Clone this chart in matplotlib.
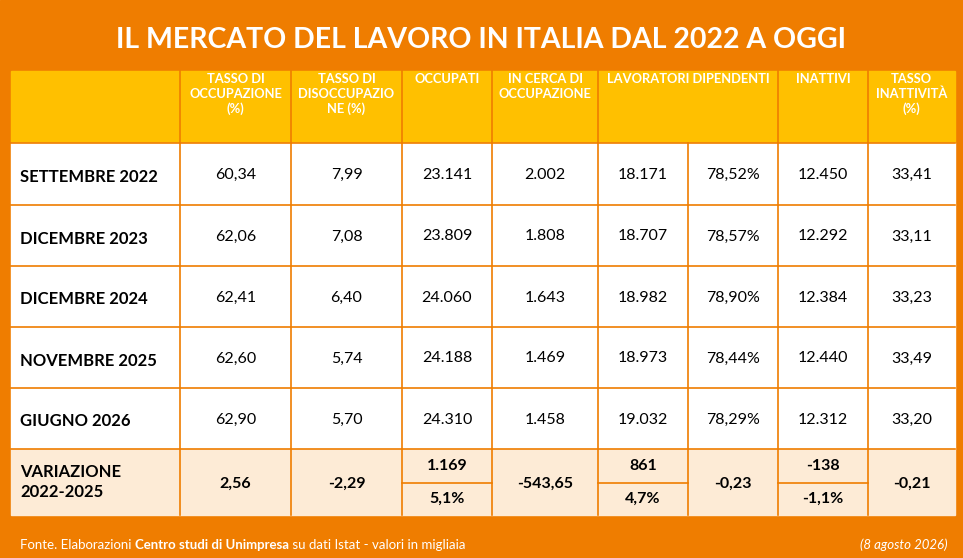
import matplotlib.pyplot as plt
from matplotlib.patches import Rectangle

title = "IL MERCATO DEL LAVORO IN ITALIA DAL 2022 A OGGI"
headers = ["TASSO DI\nOCCUPAZIONE\n(%)", "TASSO DI\nDISOCCUPAZIO\nNE (%)", "OCCUPATI",
           "IN CERCA DI\nOCCUPAZIONE", "LAVORATORI DIPENDENTI", "INATTIVI", "TASSO\nINATTIVITÀ\n(%)"]
periods = ["SETTEMBRE 2022", "DICEMBRE 2023", "DICEMBRE 2024", "NOVEMBRE 2025", "GIUGNO 2026"]
tasso_occ = ["60,34", "62,06", "62,41", "62,60", "62,90"]
tasso_dis = ["7,99", "7,08", "6,40", "5,74", "5,70"]
occupati = ["23.141", "23.809", "24.060", "24.188", "24.310"]
in_cerca = ["2.002", "1.808", "1.643", "1.469", "1.458"]
dipendenti = ["18.171", "18.707", "18.982", "18.973", "19.032"]
dip_quota = ["78,52%", "78,57%", "78,90%", "78,44%", "78,29%"]
inattivi = ["12.450", "12.292", "12.384", "12.440", "12.312"]
tasso_inatt = ["33,41", "33,11", "33,23", "33,49", "33,20"]
var_label = "VARIAZIONE\n2022-2025"
var_single = {0: "2,56", 1: "-2,29", 3: "-543,65", 5: "-0,23", 7: "-0,21"}
var_double = {2: ("1.169", "5,1%"), 4: ("861", "4,7%"), 6: ("-138", "-1,1%")}
footer_left = ["Fonte. Elaborazioni ", "Centro studi di Unimpresa", " su dati Istat - valori in migliaia"]
footer_right = "(8 agosto 2026)"

ORANGE = "#EF7D00"; YELLOW = "#FFC000"; PEACH = "#FDEBD6"
FONT = "Lato"

W, H = 963, 558
fig = plt.figure(figsize=(W/100, H/100), dpi=100)
ax = fig.add_axes([0, 0, 1, 1]); ax.set_xlim(0, W); ax.set_ylim(H, 0); ax.axis("off")
ax.add_patch(Rectangle((0, 0), W, H, color=ORANGE))
ax.text(W/2, 40, title, ha="center", va="center", color="white", fontsize=20.5, fontweight="bold", family=FONT)

xs = [11, 180, 291, 402, 492, 598, 688, 778, 868, 955]
ys = [71, 143, 205, 266, 327, 388, 449, 515]
lw = 1.2
ax.add_patch(Rectangle((xs[0], ys[0]), xs[-1]-xs[0], ys[1]-ys[0], color=YELLOW))
ax.add_patch(Rectangle((xs[0], ys[1]), xs[-1]-xs[0], ys[6]-ys[1], color="white"))
ax.add_patch(Rectangle((xs[0], ys[6]), xs[-1]-xs[0], ys[7]-ys[6], color=PEACH))
hcols = [(1, 2), (2, 3), (3, 4), (4, 5), (5, 7), (7, 8), (8, 9)]
for (a, b), h in zip(hcols, headers):
    ax.text((xs[a]+xs[b])/2, 73, h, ha="center", va="top", color="white", fontsize=9.3,
            fontweight="bold", family=FONT, linespacing=1.25)
    ax.plot([xs[a], xs[a]], [ys[0], ys[1]], color=ORANGE, lw=lw)
for y in ys[1:7]:
    ax.plot([xs[0], xs[-1]], [y, y], color=ORANGE, lw=lw)
for x in xs[1:-1]:
    ax.plot([x, x], [ys[1], ys[7]], color=ORANGE, lw=lw)
cols = [tasso_occ, tasso_dis, occupati, in_cerca, dipendenti, dip_quota, inattivi, tasso_inatt]
for i, p in enumerate(periods):
    yc = (ys[i+1]+ys[i+2])/2 + 3
    ax.text(20, yc, p, ha="left", va="center", fontsize=12, fontweight="bold", family=FONT)
    for j, c in enumerate(cols):
        ax.text((xs[j+1]+xs[j+2])/2, yc-2, c[i], ha="center", va="center", fontsize=11.5, family=FONT)
ym = (ys[6]+ys[7])/2
ax.text(20, ym, var_label, ha="left", va="center", fontsize=12, fontweight="bold", family=FONT, linespacing=1.3)
for j, v in var_single.items():
    ax.text((xs[j+1]+xs[j+2])/2, ym+2, v, ha="center", va="center", fontsize=11.5, fontweight="bold", family=FONT)
for j, (a, b) in var_double.items():
    xc = (xs[j+1]+xs[j+2])/2
    ax.plot([xs[j+1], xs[j+2]], [483, 483], color=ORANGE, lw=lw)
    ax.text(xc, 466, a, ha="center", va="center", fontsize=11.5, fontweight="bold", family=FONT)
    ax.text(xc, 499, b, ha="center", va="center", fontsize=11.5, fontweight="bold", family=FONT)
x = 20
r = fig.canvas.get_renderer()
for k, s in enumerate(footer_left):
    t = ax.text(x, 545, s, ha="left", va="center", color="white", fontsize=9.5, family=FONT,
                fontweight="bold" if k == 1 else "normal")
    x += t.get_window_extent(r).width
ax.text(948, 545, footer_right, ha="right", va="center", color="white", fontsize=9.5, style="italic", family=FONT)
fig.savefig("out.png", dpi=100)
